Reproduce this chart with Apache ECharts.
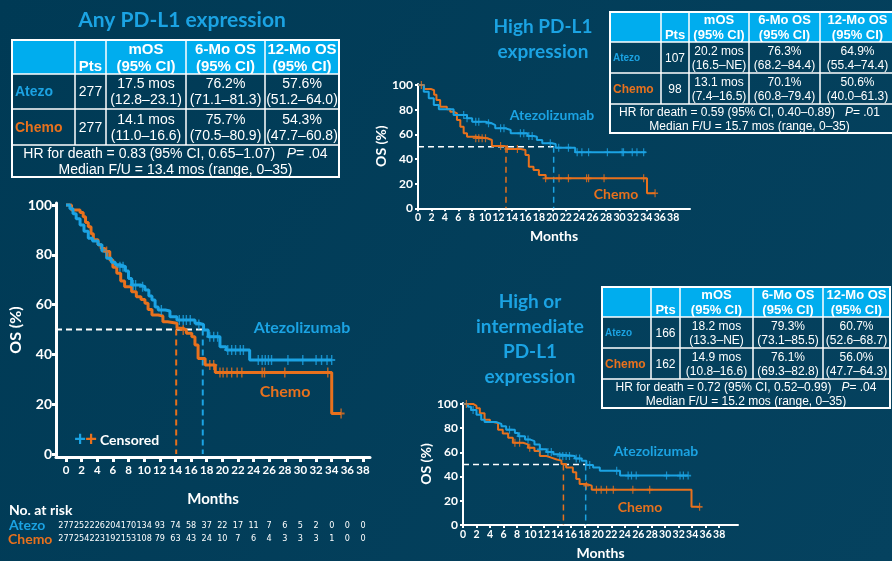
<!DOCTYPE html>
<html>
<head>
<meta charset="utf-8">
<script src="https://cdn.jsdelivr.net/npm/echarts@6/dist/echarts.min.js"></script>
<style>
  html, body { margin: 0; padding: 0; background: #023e5a; }
  #chart { width: 892px; height: 561px; }
</style>
</head>
<body>
<div id="chart"></div>
<script>
// ---- Kaplan–Meier OS curves: [month, OS %] at each step ----
const anyAtezo = [[0,100],[0.5,98.5],[0.9,96.5],[1.3,94.5],[1.8,92],[2.3,89.5],[2.85,86.6],[3.4,85.5],[4.1,84],[4.6,81.5],[5.2,78.6],[5.8,77],[6.3,76],[6.9,75.2],[7.6,73.5],[8.0,70.5],[8.4,67.9],[9.5,67.2],[10.1,65.9],[10.6,63.5],[11.0,61.8],[11.4,59],[11.8,57.8],[12.7,57.4],[13.3,55.1],[14.2,53.8],[16.5,52.5],[17.0,52],[17.6,49.8],[18.2,47.1],[19.7,43.1],[20.5,41.8],[23.5,37.8],[34.0,37.8]];
const anyChemo = [[0,100],[0.7,98],[1.8,97],[2.2,95.3],[2.5,93],[2.85,91.3],[3.2,88.5],[3.5,86],[4.1,84],[4.5,82.5],[5.0,81.3],[5.6,77.9],[6.0,75],[6.5,72.6],[7.0,69.5],[7.5,67.2],[8.4,65.2],[9.0,63.2],[9.6,62],[10.1,60.5],[10.5,58],[11.0,55.8],[11.8,55.4],[12.4,53.1],[13.0,52.5],[14.2,50.5],[15.0,49.8],[15.4,48.5],[16.1,47.1],[16.5,43.8],[16.9,38.4],[17.8,35.7],[19.1,32.7],[34.0,16.3],[35.2,16.3]];
const anyAtezoCensor = [[6.9,75.2],[7.3,75.2],[8.6,67.9],[8.9,67.9],[9.8,67.2],[12.2,57.8],[14.5,53.8],[15.0,53.8],[15.4,53.8],[15.9,53.8],[17.0,52],[18.4,47.1],[18.9,47.1],[19.4,47.1],[20.7,41.8],[21.2,41.8],[21.7,41.8],[22.3,41.8],[22.7,41.8],[24.6,37.8],[25.1,37.8],[25.5,37.8],[25.9,37.8],[26.3,37.8],[28.4,37.8],[30.3,37.8],[32.0,37.8],[32.7,37.8],[33.4,37.8],[34.0,37.8]];
const anyChemoCensor = [[5.2,81.3],[15.0,49.8],[18.4,35.7],[18.9,35.7],[19.7,32.7],[20.1,32.7],[20.6,32.7],[21.2,32.7],[21.9,32.7],[22.5,32.7],[25.1,32.7],[25.4,32.7],[28.0,32.7],[33.5,32.7],[35.2,16.3]];

const hiAtezo = [[0,100],[0.86,94.6],[1.6,89.2],[2.35,83.8],[3.1,80.3],[5.3,75.7],[7.3,73],[8.06,70.2],[10.0,68.9],[11.0,67.5],[11.5,64.9],[13.0,63.5],[13.8,60.8],[16.3,58.6],[17.2,58],[17.7,55.4],[18.5,52.7],[19.9,52.2],[20.5,49.2],[23.4,45.4],[33.9,45.4]];
const hiChemo = [[0,100],[0.9,96.8],[1.9,95.7],[2.4,92],[2.75,87.8],[3.3,82.4],[4.3,80.3],[4.8,78.3],[5.3,77],[5.8,71.6],[6.3,66.2],[6.8,60.8],[7.3,58.1],[8.6,56.8],[10.3,55.4],[11.0,50.5],[12.8,50],[13.3,48.1],[15.3,47.3],[16.0,43.2],[16.5,33.7],[17.2,31.1],[18.0,27],[19.0,24.3],[34.1,12.2],[35.3,12.2]];
const hiAtezoCensor = [[6.8,75.7],[7.3,73],[8.6,70.2],[9.05,70.2],[10.5,68.9],[12.3,64.9],[12.8,64.9],[15.25,60.8],[15.75,60.8],[16.5,58.6],[17.0,58.6],[19.7,52.7],[20.95,49.2],[22.4,49.2],[23.7,45.4],[24.4,45.4],[25.4,45.4],[28.2,45.4],[30.4,45.4],[30.6,45.4],[31.9,45.4],[32.6,45.4],[33.6,45.4]];
const hiChemoCensor = [[0.5,100],[8.6,56.8],[9.05,56.8],[9.55,56.8],[10.05,56.8],[12.3,50.5],[13.3,48.1],[14.8,48.1],[19.0,24.3],[21.0,24.3],[22.4,24.3],[25.1,24.3],[25.4,24.3],[27.7,24.3],[33.6,24.3],[35.3,12.2]];

const hiIntAtezo = [[0,100],[0.74,97.8],[1.2,95],[2.0,91],[2.7,87],[3.2,85],[4.95,83.5],[5.7,81.5],[6.4,78.8],[7.7,76.1],[8.2,73.3],[9.2,70.7],[9.9,69.3],[10.6,66.6],[11.4,62.5],[12.4,60.3],[13.4,58.4],[14.1,57],[16.6,54.9],[17.6,53],[18.3,49.5],[19.3,47.6],[20.3,44.8],[23.3,40.8],[33.4,40.8]];
const hiIntChemo = [[0,100],[1.5,98.4],[2.0,96.5],[2.5,92.4],[3.2,87],[4.0,85],[4.5,84.2],[5.2,78.8],[5.9,75.5],[6.7,72],[7.4,67.9],[8.9,66.6],[9.65,63.8],[10.6,61.1],[11.4,57],[12.4,55.7],[13.1,54.1],[13.9,53.3],[14.6,50.3],[15.3,47.6],[16.3,43.5],[16.8,38],[17.3,33.9],[18.3,32.5],[19.1,29.2],[33.9,15],[35.1,15]];
const hiIntAtezoCensor = [[1.5,95],[6.9,78.8],[8.4,73.3],[9.65,70.7],[11.4,62.5],[12.6,60.3],[13.1,60.3],[14.35,57],[14.8,57],[15.3,57],[15.8,57],[16.8,54.9],[17.3,54.9],[18.8,49.5],[22.8,44.8],[24.5,40.8],[25.0,40.8],[25.7,40.8],[30.2,40.8],[32.2,40.8],[32.7,40.8],[33.4,40.8]];
const hiIntChemoCensor = [[0.5,100],[7.7,67.9],[8.4,67.9],[9.9,63.8],[18.3,32.5],[19.8,29.2],[20.5,29.2],[21.3,29.2],[22.3,29.2],[25.2,29.2],[27.7,29.2],[35.1,15]];

// ---- Medians (months) ----
const anyMedians = { atezo: 17.5, chemo: 14.1 };
const hiMedians = { atezo: 20.2, chemo: 13.1 };
const hiIntMedians = { atezo: 18.2, chemo: 14.9 };

// ---- Ticks ----
const monthTicks = [0,2,4,6,8,10,12,14,16,18,20,22,24,26,28,30,32,34,36,38];
const osTicks = [0,20,40,60,80,100];

// ---- Number at risk (any PD-L1), one per month tick ----
const atRiskAtezo = [277,252,226,204,170,134,93,74,58,37,22,17,11,7,6,5,2,0,0,0];
const atRiskChemo = [277,254,223,192,153,108,79,63,43,24,10,7,6,4,3,3,3,1,0,0];

// ---- Summary tables ----
const tableHead = ['', 'Pts', 'mOS\n(95% CI)', '6-Mo OS\n(95% CI)', '12-Mo OS\n(95% CI)'];
const anyRows = [
  ['Atezo', '277', '17.5 mos\n(12.8–23.1)', '76.2%\n(71.1–81.3)', '57.6%\n(51.2–64.0)'],
  ['Chemo', '277', '14.1 mos\n(11.0–16.6)', '75.7%\n(70.5–80.9)', '54.3%\n(47.7–60.8)']
];
const anyFoot = ['HR for death = 0.83 (95% CI, 0.65–1.07)', '.04', 'Median F/U = 13.4 mos (range, 0–35)'];
const hiRows = [
  ['Atezo', '107', '20.2 mos\n(16.5–NE)', '76.3%\n(68.2–84.4)', '64.9%\n(55.4–74.4)'],
  ['Chemo', '98', '13.1 mos\n(7.4–16.5)', '70.1%\n(60.8–79.4)', '50.6%\n(40.0–61.3)']
];
const hiFoot = ['HR for death = 0.59 (95% CI, 0.40–0.89)', '.01', 'Median F/U = 15.7 mos (range, 0–35)'];
const hiIntRows = [
  ['Atezo', '166', '18.2 mos\n(13.3–NE)', '79.3%\n(73.1–85.5)', '60.7%\n(52.6–68.7)'],
  ['Chemo', '162', '14.9 mos\n(10.8–16.6)', '76.1%\n(69.3–82.8)', '56.0%\n(47.7–64.3)']
];
const hiIntFoot = ['HR for death = 0.72 (95% CI, 0.52–0.99)', '.04', 'Median F/U = 15.2 mos (range, 0–35)'];

// ---- Styling ----
const BLUE = '#1ba3e3';
const ORANGE = '#e8711d';
const HEAD = '#00adee';
const WHITE = '#ffffff';
const FONT = 'Lato, "Open Sans", sans-serif';
const TFONT = '"Liberation Sans", Arial, sans-serif';
const PLUS = 'path://M4,0H6V4H10V6H6V10H4V6H0V4H4Z';

function xAxisFor(grid, min, max, o) {
  return {
    type: 'value', gridIndex: grid, min: min, max: max,
    name: 'Months', nameLocation: 'middle', nameGap: o.nameGap,
    nameTextStyle: { color: WHITE, fontFamily: FONT, fontWeight: 'bold', fontSize: o.nameSize },
    axisLine: { show: true, onZero: false, lineStyle: { color: WHITE, width: o.lw } },
    axisTick: { show: true, customValues: monthTicks, length: o.tickLen, lineStyle: { color: WHITE, width: o.tickW } },
    axisLabel: { customValues: monthTicks, color: WHITE, fontFamily: FONT, fontWeight: 'bold', fontSize: o.labelSize, margin: o.margin },
    splitLine: { show: false }
  };
}
function yAxisFor(grid, min, max, o) {
  return {
    type: 'value', gridIndex: grid, min: min, max: max,
    name: 'OS (%)', nameLocation: 'middle', nameRotate: 90, nameGap: o.nameGap,
    nameTextStyle: { color: WHITE, fontFamily: FONT, fontWeight: 'bold', fontSize: o.nameSize },
    axisLine: { show: true, onZero: false, lineStyle: { color: WHITE, width: o.lw } },
    axisTick: { show: true, customValues: osTicks, length: o.tickLen, lineStyle: { color: WHITE, width: o.tickW } },
    axisLabel: { customValues: osTicks, color: WHITE, fontFamily: FONT, fontWeight: 'bold', fontSize: o.labelSize, margin: o.margin },
    splitLine: { show: false }
  };
}
function atRiskAxis(counts, offset) {
  return {
    type: 'value', gridIndex: 0, min: -1.28, max: 38.9, position: 'bottom', offset: offset,
    axisLine: { show: false }, axisTick: { show: false }, splitLine: { show: false },
    axisLabel: {
      customValues: monthTicks, margin: 0, color: WHITE, fontSize: 9,
      showMinLabel: true, showMaxLabel: true, hideOverlap: false,
      fontFamily: '"Liberation Sans Narrow", "DejaVu Sans Condensed", ' + FONT,
      formatter: function (v) { return String(counts[Math.round(v / 2)]); }
    }
  };
}
function km(xi, yi, data, color, w) {
  return { type: 'line', xAxisIndex: xi, yAxisIndex: yi, data: data, step: 'end', symbol: 'none',
    lineStyle: { color: color, width: w }, z: 3, silent: true };
}
function censor(xi, yi, data, color, size) {
  return { type: 'scatter', xAxisIndex: xi, yAxisIndex: yi, data: data, symbol: PLUS, symbolSize: size,
    itemStyle: { color: color }, z: 4, silent: true };
}
function dashed(xi, yi, data, color, w) {
  return { type: 'line', xAxisIndex: xi, yAxisIndex: yi, data: data, symbol: 'none',
    lineStyle: { color: color, width: w, type: [6, 4] }, z: 2, silent: true };
}
function medianLines(xi, yi, x0, med, w) {
  return [
    dashed(xi, yi, [[x0, 50], [med.atezo, 50]], WHITE, w),
    dashed(xi, yi, [[med.chemo, 50], [med.chemo, 0]], ORANGE, w),
    dashed(xi, yi, [[med.atezo, 50], [med.atezo, 0]], BLUE, w)
  ];
}

// Summary table drawn with graphic elements
function table(cols, rows, body, foot, s) {
  const els = [];
  const L = cols[0], R = cols[5], T = rows[0], B = rows[4];
  els.push({ type: 'rect', shape: { x: L, y: T, width: R - L, height: rows[1] - T }, style: { fill: HEAD } });
  for (let i = 1; i <= 3; i++) {
    els.push({ type: 'line', shape: { x1: L, y1: rows[i], x2: R, y2: rows[i] }, style: { stroke: WHITE, lineWidth: s.lw } });
  }
  for (let i = 1; i <= 4; i++) {
    els.push({ type: 'line', shape: { x1: cols[i], y1: T, x2: cols[i], y2: rows[3] }, style: { stroke: WHITE, lineWidth: s.lw } });
  }
  els.push({ type: 'rect', shape: { x: L, y: T, width: R - L, height: B - T }, style: { fill: 'none', stroke: WHITE, lineWidth: s.lw + 0.5 } });
  tableHead.forEach(function (t, i) {
    if (!t) return;
    const single = t.indexOf('\n') < 0;
    els.push({ type: 'text', x: (cols[i] + cols[i + 1]) / 2, y: (rows[0] + rows[1]) / 2 + (single ? s.headLH / 2 : 0) + 1,
      style: { text: t, fill: WHITE, fontFamily: TFONT, fontWeight: 'bold', fontSize: s.head, align: 'center', verticalAlign: 'middle', lineHeight: s.headLH } });
  });
  body.forEach(function (row, r) {
    const cy = (rows[r + 1] + rows[r + 2]) / 2 + 1;
    row.forEach(function (t, i) {
      if (i === 0) {
        els.push({ type: 'text', x: cols[0] + 3, y: cy,
          style: { text: t, fill: r === 0 ? BLUE : ORANGE, fontFamily: TFONT, fontWeight: 'bold',
            fontSize: r === 0 ? s.atezo : s.chemo, align: 'left', verticalAlign: 'middle' } });
      } else {
        els.push({ type: 'text', x: (cols[i] + cols[i + 1]) / 2, y: cy,
          style: { text: t, fill: WHITE, fontFamily: TFONT, fontSize: s.body, align: 'center', verticalAlign: 'middle', lineHeight: s.bodyLH } });
      }
    });
  });
  const rn = { fill: WHITE, fontFamily: TFONT, fontSize: s.body, lineHeight: s.bodyLH };
  const ri = { fill: WHITE, fontFamily: TFONT, fontSize: s.body, fontStyle: 'italic', lineHeight: s.bodyLH };
  els.push({ type: 'text', x: (L + R) / 2 + s.footDx, y: (rows[3] + B) / 2 + 1,
    style: { text: '{n|' + foot[0] + '   }{i|P}{n|= ' + foot[1] + '}\n{n|' + foot[2] + '}',
      rich: { n: rn, i: ri }, align: 'center', verticalAlign: 'middle' } });
  return els;
}

function label(x, y, text, color, size) {
  return { type: 'text', x: x, y: y, style: { text: text, fill: color, fontFamily: FONT, fontWeight: 'bold', fontSize: size, align: 'center', verticalAlign: 'middle' } };
}
function title(x, y, text, size, lh) {
  return { type: 'text', x: x, y: y, style: { text: text, fill: BLUE, fontFamily: FONT, fontWeight: 'bold', fontSize: size, lineHeight: lh, align: 'center', verticalAlign: 'top' } };
}

const bigAxis = { nameGap: 35, nameSize: 15, lw: 3, tickLen: 5, tickW: 3, labelSize: 11.5, margin: 7 };
const bigY = { nameGap: 28, nameSize: 16, lw: 3, tickLen: 4, tickW: 3, labelSize: 14, margin: 4 };
const smallX = { nameGap: 21, nameSize: 14, lw: 2, tickLen: 3, tickW: 2, labelSize: 10.5, margin: 4 };
const smallY = { nameGap: 26, nameSize: 14, lw: 2, tickLen: 3, tickW: 2, labelSize: 12, margin: 5 };

const graphics = []
  .concat([
    title(182, 8, 'Any PD-L1 expression', 21, 24),
    title(543, 14, 'High PD-L1\nexpression', 19, 25),
    title(530, 289, 'High or\nintermediate\nPD-L1\nexpression', 19, 25),
    label(302, 328, 'Atezolizumab', BLUE, 16),
    label(285, 392, 'Chemo', ORANGE, 16),
    label(552, 115, 'Atezolizumab', BLUE, 14),
    label(616, 194, 'Chemo', ORANGE, 14),
    label(656, 451, 'Atezolizumab', BLUE, 14),
    label(640, 507, 'Chemo', ORANGE, 14),
    { type: 'text', x: 80, y: 440, style: { text: '+', fill: BLUE, fontFamily: TFONT, fontWeight: 'bold', fontSize: 20, align: 'center', verticalAlign: 'middle' } },
    { type: 'text', x: 91, y: 440, style: { text: '+', fill: ORANGE, fontFamily: TFONT, fontWeight: 'bold', fontSize: 20, align: 'center', verticalAlign: 'middle' } },
    { type: 'text', x: 100, y: 440, style: { text: 'Censored', fill: WHITE, fontFamily: FONT, fontWeight: 'bold', fontSize: 14, align: 'left', verticalAlign: 'middle' } },
    { type: 'text', x: 9, y: 510, style: { text: 'No. at risk', fill: WHITE, fontFamily: FONT, fontWeight: 'bold', fontSize: 14, align: 'left', verticalAlign: 'middle' } },
    { type: 'text', x: 9, y: 525, style: { text: 'Atezo', fill: BLUE, fontFamily: FONT, fontWeight: 'bold', fontSize: 14, align: 'left', verticalAlign: 'middle' } },
    { type: 'text', x: 8, y: 539, style: { text: 'Chemo', fill: ORANGE, fontFamily: FONT, fontWeight: 'bold', fontSize: 14, align: 'left', verticalAlign: 'middle' } }
  ])
  .concat(table([12, 75, 106, 186, 265, 339], [40, 74, 109, 145, 177], anyRows, anyFoot,
    { lw: 1.5, head: 15, headLH: 17, body: 14, bodyLH: 16, atezo: 14, chemo: 14, footDx: 0 }))
  .concat(table([610, 661, 689, 749, 820, 895], [12, 42, 73, 104, 133], hiRows, hiFoot,
    { lw: 1.5, head: 13, headLH: 15, body: 12, bodyLH: 13.5, atezo: 10, chemo: 12, footDx: -3 }))
  .concat(table([602, 651, 680, 753, 823, 890], [287, 317, 348, 379, 408], hiIntRows, hiIntFoot,
    { lw: 1.5, head: 13, headLH: 15, body: 12, bodyLH: 13.5, atezo: 10, chemo: 12, footDx: 0 }));

const option = {
  animation: false,
  backgroundColor: {
    type: 'linear', x: 0, y: 0, x2: 1, y2: 1,
    colorStops: [{ offset: 0, color: '#003a55' }, { offset: 1, color: '#05425f' }]
  },
  grid: [
    { left: 56, top: 203, width: 314, height: 254 },
    { left: 418, top: 84, width: 272, height: 124.3 },
    { left: 463, top: 403, width: 275, height: 123.7 }
  ],
  xAxis: [
    xAxisFor(0, -1.28, 38.9, bigAxis),
    atRiskAxis(atRiskAtezo, 64),
    atRiskAxis(atRiskChemo, 77.5),
    xAxisFor(1, 0, 40.5, smallX),
    xAxisFor(2, 0, 40.8, smallX)
  ],
  yAxis: [
    yAxisFor(0, -1.2, 100.8, bigY),
    yAxisFor(1, 0, 100.8, smallY),
    yAxisFor(2, 0, 100.8, smallY)
  ],
  series: [].concat(
    medianLines(0, 0, -1.28, anyMedians, 2),
    [km(0, 0, anyChemo, ORANGE, 3), km(0, 0, anyAtezo, BLUE, 3),
     censor(0, 0, anyChemoCensor, ORANGE, [7, 10]), censor(0, 0, anyAtezoCensor, BLUE, [7, 10])],
    medianLines(3, 1, 0, hiMedians, 1.5),
    [km(3, 1, hiChemo, ORANGE, 2), km(3, 1, hiAtezo, BLUE, 2),
     censor(3, 1, hiChemoCensor, ORANGE, [6, 8]), censor(3, 1, hiAtezoCensor, BLUE, [6, 8])],
    medianLines(4, 2, 0, hiIntMedians, 1.5),
    [km(4, 2, hiIntChemo, ORANGE, 2), km(4, 2, hiIntAtezo, BLUE, 2),
     censor(4, 2, hiIntChemoCensor, ORANGE, [6, 8]), censor(4, 2, hiIntAtezoCensor, BLUE, [6, 8])]
  ),
  graphic: graphics
};

const chart = echarts.init(document.getElementById('chart'), null, { renderer: 'canvas' });
chart.setOption(option);
</script>
</body>
</html>
